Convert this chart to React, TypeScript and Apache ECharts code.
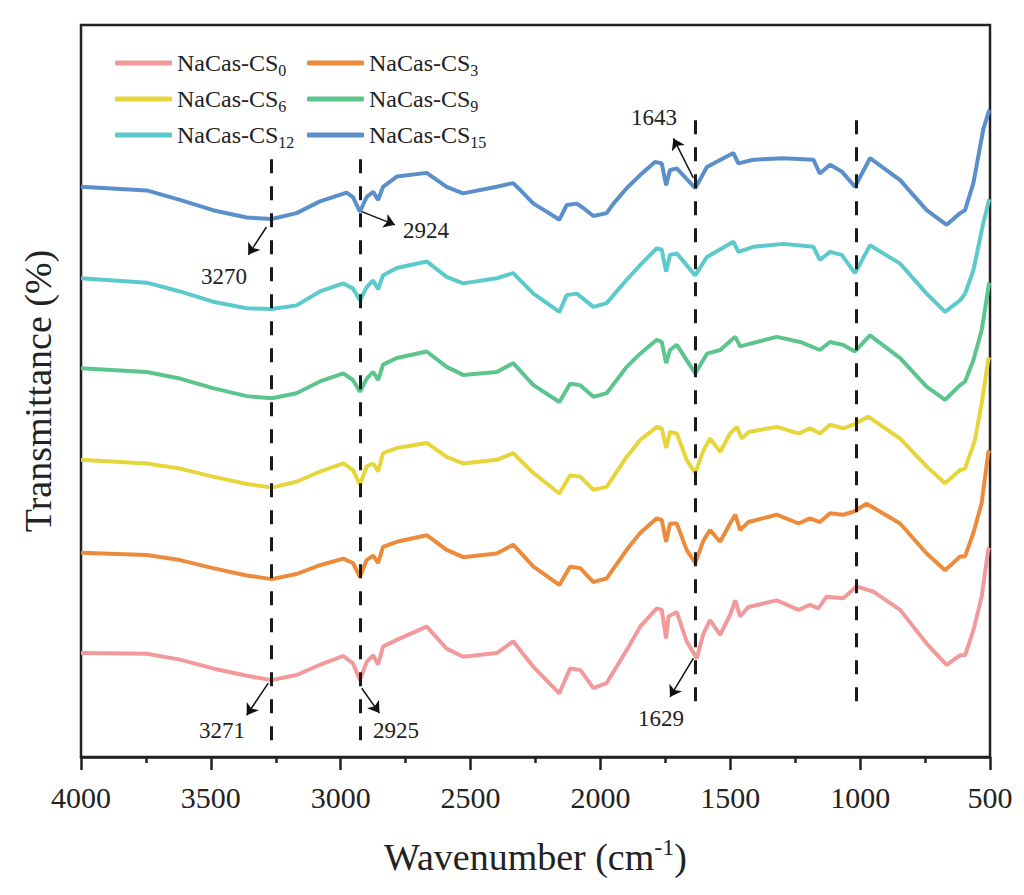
import { useEffect, useRef } from "react";
import * as echarts from "echarts";

const FONT = "'Liberation Serif', 'Times New Roman', serif";

const seriesNames = ["NaCas-CS0", "NaCas-CS3", "NaCas-CS6", "NaCas-CS9", "NaCas-CS12", "NaCas-CS15"];
const seriesColors = ["#F2999C", "#EC8B3B", "#E6D63C", "#5CC58D", "#5CC9CB", "#5B8FC9"];

// [wavenumber (cm-1), transmittance (a.u., offset)]
const cs0 = [[4000,14.2],[3747,14.1],[3619,13.3],[3492,12.1],[3362,11.1],[3266,10.5],[3170,11.2],[3080,12.6],[2990,13.8],[2953,12.8],[2926,10.5],[2900,13.0],[2875,13.9],[2856,12.6],[2837,15.1],[2784,16.0],[2669,17.8],[2592,14.8],[2529,13.7],[2399,14.2],[2336,15.8],[2258,12.3],[2158,8.7],[2117,12.1],[2078,11.9],[2027,9.4],[1976,10.1],[1899,14.6],[1847,17.8],[1783,20.3],[1764,20.1],[1747,16.2],[1738,19.2],[1706,19.8],[1668,15.8],[1629,13.5],[1603,16.9],[1578,18.7],[1539,16.7],[1501,19.4],[1481,21.4],[1462,19.2],[1430,20.5],[1321,21.4],[1237,20.1],[1193,20.8],[1161,20.3],[1129,21.9],[1065,21.7],[1014,23.3],[949,22.6],[846,20.1],[744,15.5],[667,12.6],[615,13.9],[596,13.9],[564,17.3],[532,21.9],[507,28.3],[503,28.6]];
const cs3 = [[4000,27.9],[3747,27.6],[3619,26.9],[3492,25.8],[3362,24.8],[3266,24.3],[3170,25.0],[3080,26.2],[2990,27.1],[2953,26.5],[2926,24.6],[2900,26.9],[2875,27.5],[2856,26.5],[2837,28.7],[2784,29.4],[2669,30.3],[2592,28.3],[2529,27.3],[2399,27.8],[2336,29.0],[2258,26.0],[2158,23.5],[2117,26.0],[2078,25.8],[2027,23.9],[1976,24.4],[1899,28.3],[1847,30.6],[1783,32.6],[1764,32.4],[1747,29.4],[1732,31.9],[1706,31.9],[1668,28.3],[1635,26.5],[1603,29.6],[1578,31.0],[1539,29.4],[1501,31.9],[1481,33.1],[1462,31.0],[1430,32.1],[1321,33.1],[1237,31.9],[1193,32.6],[1155,32.1],[1116,33.3],[1065,33.1],[1026,33.5],[975,34.6],[846,31.9],[744,27.8],[673,25.5],[615,27.4],[596,27.4],[564,30.6],[532,34.7],[507,41.5],[503,41.9]];
const cs6 = [[4000,40.6],[3747,40.1],[3619,39.4],[3492,38.3],[3362,37.3],[3266,36.8],[3170,37.6],[3080,39.0],[2990,40.1],[2953,39.2],[2926,37.2],[2900,39.7],[2875,40.1],[2856,39.0],[2837,41.5],[2784,42.2],[2669,42.9],[2592,41.0],[2529,40.1],[2399,40.6],[2336,41.5],[2258,38.8],[2158,36.0],[2117,38.5],[2078,38.3],[2027,36.5],[1976,36.9],[1899,41.0],[1847,43.3],[1783,45.1],[1764,44.9],[1747,42.2],[1732,44.4],[1706,44.2],[1668,40.6],[1635,38.8],[1603,41.9],[1578,43.5],[1539,41.7],[1501,44.2],[1475,45.1],[1456,43.5],[1430,44.4],[1321,45.1],[1237,44.2],[1193,44.9],[1155,44.2],[1116,45.4],[1065,44.9],[1026,45.4],[969,46.5],[846,43.5],[744,39.7],[673,37.4],[615,39.2],[596,39.4],[558,43.3],[532,48.3],[507,54.2],[503,54.6]];
const cs9 = [[4000,53.1],[3747,52.6],[3619,51.7],[3492,50.4],[3362,49.3],[3266,49.0],[3170,49.7],[3080,51.3],[2990,52.4],[2953,51.5],[2926,49.9],[2900,51.7],[2875,52.6],[2856,51.5],[2837,53.6],[2784,54.5],[2669,55.4],[2592,53.3],[2529,52.2],[2399,52.6],[2336,53.8],[2258,50.8],[2158,48.5],[2117,51.0],[2078,50.8],[2027,49.2],[1976,49.7],[1899,53.3],[1847,55.1],[1783,57.0],[1764,56.7],[1747,53.8],[1732,55.6],[1706,56.3],[1635,52.4],[1590,55.1],[1539,55.6],[1481,57.4],[1462,56.1],[1321,57.4],[1231,56.7],[1155,55.6],[1116,56.7],[1065,56.3],[1020,55.4],[962,57.6],[846,54.5],[744,50.6],[673,48.8],[615,50.8],[596,51.3],[564,54.2],[532,58.3],[503,64.8]];
const cs12 = [[4000,65.4],[3747,64.8],[3619,63.6],[3492,62.2],[3362,61.3],[3266,61.2],[3170,61.7],[3080,63.6],[2990,64.7],[2953,64.0],[2926,62.4],[2900,64.2],[2875,65.1],[2856,63.9],[2837,65.8],[2784,66.8],[2669,67.7],[2592,65.6],[2529,64.7],[2399,65.4],[2336,66.1],[2258,63.3],[2158,60.8],[2130,63.1],[2091,63.3],[2027,61.5],[1976,62.0],[1899,65.2],[1847,67.2],[1783,69.5],[1764,69.3],[1747,66.3],[1732,68.6],[1706,68.8],[1635,65.8],[1590,68.3],[1488,70.4],[1469,69.0],[1411,69.7],[1296,70.1],[1180,69.7],[1155,67.9],[1116,69.0],[1071,68.6],[1020,66.1],[962,69.9],[846,67.4],[744,63.3],[673,60.8],[615,62.4],[596,63.3],[564,66.5],[526,72.9],[503,76.2]];
const cs15 = [[4000,77.9],[3747,77.4],[3619,76.1],[3492,74.7],[3362,73.7],[3266,73.5],[3170,74.3],[3080,75.9],[2977,77.1],[2953,76.5],[2926,74.5],[2900,76.5],[2875,77.2],[2856,76.1],[2837,77.9],[2784,79.3],[2669,79.8],[2592,77.9],[2529,77.0],[2399,77.9],[2336,78.4],[2310,77.5],[2258,75.6],[2207,74.5],[2158,73.4],[2130,75.4],[2091,75.6],[2066,75.0],[2027,73.9],[1976,74.3],[1950,75.6],[1899,77.7],[1847,79.5],[1790,81.3],[1764,81.1],[1747,78.1],[1732,80.2],[1706,80.4],[1635,77.7],[1590,80.6],[1488,82.5],[1469,81.1],[1411,81.6],[1296,81.8],[1180,81.6],[1155,79.7],[1116,80.9],[1071,80.0],[1020,77.9],[962,81.8],[846,78.8],[744,74.7],[667,72.7],[615,74.3],[596,74.7],[564,78.4],[526,85.7],[503,88.4]];

const seriesData = [cs0, cs3, cs6, cs9, cs12, cs15];

// reference lines (wavenumber) and their vertical extent
const refLineX = [3268, 2926, 1635, 1016];
const refLineFrom = [2.3, 2.3, 7.6, 7.6];
const refLineTo = [82.1, 82.1, 87.2, 87.2];

// peak annotations: label, label position, arrow from -> to (data coords)
const annLabels = ["3270", "2924", "1643", "3271", "2925", "1629"];
const annTextAt = [[3449, 65.7], [2672, 71.9], [1794, 87.4], [3457, 3.6], [2787, 3.6], [1767, 5.3]];
const annArrowFrom = [[3286, 72.4], [2919, 74.5], [1642, 79.1], [3279, 10.1], [2919, 9.4], [1642, 13.5]];
const annArrowTo = [[3356, 68.6], [2791, 72.7], [1719, 84.5], [3362, 5.7], [2851, 6.0], [1732, 8.2]];

const xTicks = { min: 500, max: 4000, interval: 500 };

export default function App() {
  const ref = useRef<HTMLDivElement>(null);
  useEffect(() => {
    if (!ref.current) return;
    const chart = echarts.init(ref.current, undefined, { renderer: "svg" });
    const legendCommon = {
      orient: "vertical",
      itemWidth: 57,
      itemHeight: 5,
      itemGap: 6,
      icon: "roundRect",
      selectedMode: false,
      formatter: (n: string) => n.replace(/^NaCas-CS(\d+)$/, "NaCas-CS{sub|$1}"),
      textStyle: {
        fontFamily: FONT,
        fontSize: 24,
        color: "#222",
        lineHeight: 30,
        rich: {
          sub: { fontFamily: FONT, fontSize: 16, lineHeight: 14, verticalAlign: "bottom", color: "#222" },
        },
      },
    };
    const series: any[] = seriesData.map((d, i) => ({
      name: seriesNames[i],
      type: "line",
      data: d,
      showSymbol: false,
      symbol: "none",
      silent: true,
      z: 2,
      lineStyle: { width: 4, color: seriesColors[i] },
      itemStyle: { color: seriesColors[i] },
    }));
    series[5].markLine = {
      silent: true,
      symbol: ["none", "none"],
      z: 5,
      label: { show: false },
      lineStyle: { color: "#1a1a1a", width: 3, type: [14, 13] },
      data: refLineX.map((x, i) => [
        { coord: [x, refLineFrom[i]] },
        { coord: [x, refLineTo[i]] },
      ]),
    };
    series[0].markLine = {
      silent: true,
      symbol: ["none", "arrow"],
      symbolSize: 11,
      z: 6,
      label: { show: false },
      lineStyle: { color: "#111", width: 1.5, type: "solid" },
      data: annLabels.map((_, i) => [
        { coord: annArrowFrom[i] },
        { coord: annArrowTo[i] },
      ]),
    };
    series[0].markPoint = {
      silent: true,
      symbol: "circle",
      symbolSize: 0,
      z: 6,
      label: {
        show: true,
        position: "inside",
        formatter: "{b}",
        fontFamily: FONT,
        fontSize: 23,
        color: "#222",
      },
      data: annLabels.map((t, i) => ({ name: t, coord: annTextAt[i] })),
    };

    chart.setOption({
      animation: false,
      backgroundColor: "#ffffff",
      grid: {
        left: 81,
        right: 34,
        top: 25,
        bottom: 138,
        show: true,
        borderColor: "#222",
        borderWidth: 2.5,
        backgroundColor: "transparent",
      },
      legend: [
        { ...legendCommon, left: 110, top: 43, data: [seriesNames[0], seriesNames[2], seriesNames[4]] },
        { ...legendCommon, left: 302, top: 43, data: [seriesNames[1], seriesNames[3], seriesNames[5]] },
      ],
      xAxis: {
        type: "value",
        min: xTicks.min,
        max: xTicks.max,
        interval: xTicks.interval,
        inverse: true,
        name: "Wavenumber (cm{sup|-1})",
        nameLocation: "middle",
        nameGap: 78,
        nameTextStyle: {
          fontFamily: FONT,
          fontSize: 38,
          color: "#222",
          lineHeight: 44,
          rich: {
            sup: { fontFamily: FONT, fontSize: 24, lineHeight: 24, verticalAlign: "top", color: "#222" },
          },
        },
        axisLine: { show: true, lineStyle: { color: "#222", width: 2.5 } },
        axisTick: { show: true, length: 13, lineStyle: { color: "#222", width: 2.5 } },
        minorTick: { show: true, splitNumber: 2, length: 6, lineStyle: { color: "#222", width: 2.5 } },
        axisLabel: {
          fontFamily: FONT,
          fontSize: 30,
          color: "#222",
          margin: 25,
          formatter: (v: number) => String(v),
        },
        splitLine: { show: false },
      },
      yAxis: {
        type: "value",
        min: 0,
        max: 100,
        name: "Transmittance (%)",
        nameLocation: "middle",
        nameGap: 24,
        nameTextStyle: { fontFamily: FONT, fontSize: 38, color: "#222" },
        axisLine: { show: false },
        axisTick: { show: false },
        axisLabel: { show: false },
        splitLine: { show: false },
      },
      series,
    });
    return () => chart.dispose();
  }, []);
  return (
    <div
      ref={ref}
      style={{ position: "fixed", left: 0, top: 0, width: 1024, height: 895, background: "#fff" }}
    />
  );
}
